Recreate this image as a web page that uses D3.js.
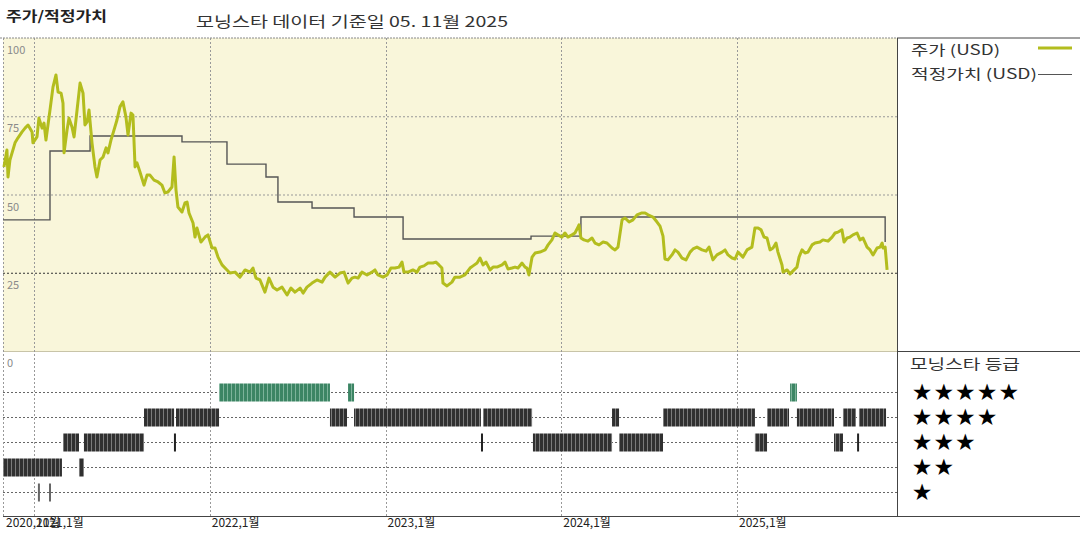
<!DOCTYPE html>
<html><head><meta charset="utf-8">
<script src="https://cdn.jsdelivr.net/npm/d3@7"></script>
<style>body{margin:0;background:#fff;} svg{display:block;}</style>
</head><body><svg id="c" width="1080" height="540"></svg>
<script>
// ---------- DATA ----------
const titleText = "주가/적정가치";
const subtitleText = "모닝스타 데이터 기준일 05. 11월 2025";
const legendLabels = ["주가 (USD)", "적정가치 (USD)"];
const ratingTitle = "모닝스타 등급";
const yTicks = [0, 25, 50, 75, 100];
const yearTicks = [2021, 2022, 2023, 2024, 2025];
const yearLabels = ["2021,1월", "2022,1월", "2023,1월", "2024,1월", "2025,1월"];
const startLabel = "2020,11월";
const starRows = [5, 4, 3, 2, 1];

const priceYears = [2020.829,2020.846,2020.852,2020.863,2020.892,2020.909,2020.932,2020.949,2020.966,2020.989,2020.994,2021.017,2021.028,2021.046,2021.057,2021.068,2021.091,2021.108,2021.125,2021.137,2021.154,2021.165,2021.171,2021.188,2021.199,2021.216,2021.228,2021.245,2021.262,2021.279,2021.290,2021.302,2021.313,2021.330,2021.347,2021.358,2021.376,2021.393,2021.410,2021.421,2021.438,2021.450,2021.472,2021.489,2021.506,2021.523,2021.535,2021.552,2021.563,2021.575,2021.586,2021.603,2021.626,2021.643,2021.660,2021.683,2021.706,2021.728,2021.745,2021.762,2021.785,2021.797,2021.808,2021.819,2021.842,2021.859,2021.871,2021.882,2021.905,2021.916,2021.927,2021.950,2021.973,2021.990,2022.013,2022.030,2022.047,2022.070,2022.098,2022.115,2022.144,2022.172,2022.201,2022.229,2022.246,2022.263,2022.286,2022.314,2022.337,2022.360,2022.383,2022.411,2022.440,2022.462,2022.485,2022.514,2022.531,2022.553,2022.582,2022.610,2022.639,2022.656,2022.684,2022.713,2022.741,2022.764,2022.787,2022.809,2022.826,2022.844,2022.866,2022.895,2022.923,2022.940,2022.957,2022.986,2023.009,2023.031,2023.054,2023.077,2023.094,2023.105,2023.128,2023.156,2023.179,2023.196,2023.219,2023.242,2023.270,2023.287,2023.304,2023.321,2023.327,2023.350,2023.378,2023.395,2023.424,2023.452,2023.481,2023.498,2023.521,2023.538,2023.555,2023.572,2023.595,2023.612,2023.634,2023.663,2023.680,2023.697,2023.720,2023.737,2023.754,2023.777,2023.794,2023.805,2023.816,2023.834,2023.851,2023.879,2023.908,2023.925,2023.947,2023.964,2023.981,2024.004,2024.021,2024.038,2024.061,2024.078,2024.095,2024.101,2024.112,2024.129,2024.152,2024.175,2024.192,2024.215,2024.238,2024.260,2024.289,2024.306,2024.323,2024.346,2024.363,2024.386,2024.408,2024.431,2024.459,2024.477,2024.494,2024.522,2024.545,2024.562,2024.579,2024.590,2024.607,2024.630,2024.647,2024.664,2024.687,2024.710,2024.733,2024.750,2024.772,2024.801,2024.824,2024.841,2024.863,2024.886,2024.915,2024.932,2024.949,2024.972,2024.989,2025.006,2025.034,2025.057,2025.085,2025.102,2025.120,2025.137,2025.154,2025.171,2025.188,2025.205,2025.222,2025.233,2025.256,2025.262,2025.285,2025.302,2025.319,2025.341,2025.353,2025.370,2025.387,2025.404,2025.427,2025.444,2025.472,2025.489,2025.518,2025.541,2025.558,2025.575,2025.597,2025.609,2025.626,2025.643,2025.660,2025.683,2025.700,2025.717,2025.740,2025.757,2025.774,2025.797,2025.814,2025.826,2025.831,2025.843,2025.854];
const priceValues = [58.8,64.2,55.6,61.0,66.5,68.1,70.0,71.2,72.2,70.0,66.5,68.4,74.4,71.2,72.8,67.4,77.0,84.3,88.2,82.7,82.4,79.2,63.3,70.6,74.4,71.6,68.4,77.0,85.6,82.4,72.2,73.2,77.0,66.5,58.8,55.6,61.0,62.0,64.9,63.3,67.4,69.6,73.8,78.0,79.6,74.8,69.0,76.0,75.4,58.8,60.1,57.2,53.0,56.2,56.2,54.6,54.0,53.0,50.5,50.8,52.4,62.0,51.4,46.0,44.4,47.3,47.6,44.1,40.9,36.4,39.3,34.8,36.4,37.1,32.9,32.9,30.0,27.5,25.9,24.9,25.2,23.6,25.9,25.2,26.5,23.3,22.7,18.8,23.3,20.4,19.5,20.4,17.9,20.1,18.8,20.1,18.5,20.4,21.7,22.7,22.0,23.6,25.2,23.6,24.9,25.2,21.7,23.3,23.6,23.3,25.2,24.3,25.2,25.9,24.3,23.6,24.3,26.5,26.5,26.8,28.4,25.2,25.2,25.9,25.2,26.8,27.2,28.1,28.1,28.4,27.5,26.5,21.7,20.8,22.0,23.6,23.6,24.3,26.5,27.2,28.1,29.7,27.5,28.4,25.9,26.8,26.8,27.5,28.4,26.2,26.5,26.8,26.5,28.1,26.8,26.5,24.3,30.0,31.3,31.6,32.3,33.9,35.5,37.7,37.1,36.4,37.7,36.4,37.1,37.7,39.6,40.3,36.1,35.5,35.1,36.1,34.5,33.9,34.8,34.5,32.9,32.3,33.2,41.9,42.5,41.2,41.9,43.5,44.1,44.1,43.5,42.8,41.2,39.9,36.7,29.4,29.1,30.7,32.3,31.6,29.7,29.1,31.6,32.6,33.2,32.3,31.9,33.2,29.1,30.7,31.6,32.3,30.7,29.7,29.4,31.6,30.0,32.3,33.2,39.3,39.3,38.7,36.4,36.1,32.3,32.9,34.5,31.6,27.5,25.2,25.9,24.6,25.6,26.8,30.0,32.3,31.3,31.6,33.9,34.5,34.8,35.5,35.1,36.4,37.7,38.0,38.7,34.8,36.1,36.4,37.1,37.7,35.5,36.1,33.2,32.3,30.7,32.9,33.2,34.5,32.9,33.2,25.9];

const fairYears = [2020.824,2021.091,2021.319,2021.842,2022.098,2022.320,2022.388,2022.582,2022.821,2023.100,2023.828,2024.112,2025.843,2025.843];
const fairValues = [41.9,63.9,68.7,66.8,59.7,55.6,47.6,45.7,42.8,35.8,36.7,42.8,42.8,34.8];

const ratingStart = [2020.824,2021.256,2021.028,2021.091,2021.165,2021.284,2021.802,2021.626,2021.808,2022.053,2022.684,2022.787,2022.821,2023.549,2023.555,2023.839,2024.289,2024.329,2024.579,2025.102,2025.171,2025.302,2025.341,2025.552,2025.603,2025.689,2025.694];
const ratingEnd   = [2021.159,2021.284,2021.028,2021.091,2021.256,2021.626,2021.802,2021.797,2022.053,2022.684,2022.781,2022.821,2023.543,2023.549,2023.834,2024.289,2024.329,2024.579,2025.102,2025.171,2025.296,2025.341,2025.552,2025.603,2025.677,2025.689,2025.848];
const ratingStars = [2,2,1,1,3,3,3,4,4,5,4,5,4,3,4,3,4,3,4,3,4,5,4,3,4,3,4];

// ---------- LAYOUT ----------
const svg = d3.select("#c");
const L = 3, R = 897, T = 38, MID = 351, B = 516;
const x = d3.scaleLinear().domain([2020.8236, 2025.9104]).range([L, R]);
const y = d3.scaleLinear().domain([0, 100]).range([MID, T]);
const yr = d3.scaleLinear().domain([0, 5]).range([517, 392]);
const font = "'Noto Sans CJK KR', 'DejaVu Sans', sans-serif";

const defs = svg.append("defs");
function stripe(id, base, line) {
  const p = defs.append("pattern").attr("id", id).attr("patternUnits", "userSpaceOnUse")
    .attr("width", 4).attr("height", 4);
  p.append("rect").attr("width", 4).attr("height", 4).attr("fill", base);
  p.append("rect").attr("x", 3).attr("width", 1).attr("height", 4).attr("fill", line);
}
stripe("stDark", "#303030", "#7a7a7a");
stripe("stGreen", "#3c8564", "#7db39a");

// backgrounds
svg.append("rect").attr("x", L).attr("y", T).attr("width", R - L).attr("height", MID - T).attr("fill", "#f9f6da");

// header
svg.append("text").attr("x", 6).attr("y", 21).attr("font-family", font).attr("font-weight", "bold")
  .attr("font-size", 13.5).attr("fill", "#222").attr("textLength", 101).attr("lengthAdjust", "spacingAndGlyphs").text(titleText);
svg.append("text").attr("x", 196).attr("y", 27).attr("font-family", font)
  .attr("font-size", 15).attr("fill", "#333").attr("textLength", 312).attr("lengthAdjust", "spacingAndGlyphs").text(subtitleText);

// top line
svg.append("line").attr("x1", 0).attr("x2", R).attr("y1", T).attr("y2", T).attr("stroke", "#888").attr("stroke-dasharray", "2,1");
svg.append("line").attr("x1", R).attr("x2", 1080).attr("y1", T).attr("y2", T).attr("stroke", "#444");

// horizontal price gridlines
svg.append("g").selectAll("line").data([25, 50, 75]).join("line")
  .attr("x1", L).attr("x2", R).attr("y1", d => y(d) + 0.5).attr("y2", d => y(d) + 0.5)
  .attr("stroke", d => d === 25 ? "#333" : "#999").attr("stroke-dasharray", "2,2");
svg.append("line").attr("x1", L).attr("x2", R).attr("y1", MID + 0.5).attr("y2", MID + 0.5).attr("stroke", "#c8c4a8");

// rating gridlines
svg.append("g").selectAll("line").data(starRows).join("line")
  .attr("x1", L).attr("x2", R).attr("y1", d => yr(d) + 0.5).attr("y2", d => yr(d) + 0.5)
  .attr("stroke", "#666").attr("stroke-dasharray", "2,2");

// vertical year gridlines
svg.append("g").selectAll("line").data(yearTicks).join("line")
  .attr("x1", d => Math.round(x(d)) + 0.5).attr("x2", d => Math.round(x(d)) + 0.5).attr("y1", T).attr("y2", B)
  .attr("stroke", "#999").attr("stroke-dasharray", "2,2");
svg.append("line").attr("x1", L + 0.5).attr("x2", L + 0.5).attr("y1", T).attr("y2", B).attr("stroke", "#999").attr("stroke-dasharray", "2,2");

// y labels
svg.append("g").selectAll("text").data(yTicks).join("text")
  .attr("x", 7).attr("y", d => y(d) + 16).attr("font-family", font).attr("font-size", 11).attr("fill", "#8a8a8a")
  .text(d => d);

// fair value line
const fairPts = fairYears.map((t, i) => [t, fairValues[i]]);
svg.append("path").datum(fairPts)
  .attr("d", d3.line().x(d => x(d[0])).y(d => y(d[1])).curve(d3.curveStepAfter))
  .attr("fill", "none").attr("stroke", "#555").attr("stroke-width", 1.4);

// price line
const pricePts = priceYears.map((t, i) => [t, priceValues[i]]);
svg.append("path").datum(pricePts)
  .attr("d", d3.line().x(d => x(d[0])).y(d => y(d[1])))
  .attr("fill", "none").attr("stroke", "#b3bd1e").attr("stroke-width", 3).attr("stroke-linejoin", "round");

// rating bars
const ratings = ratingStart.map((s, i) => ({ s, e: ratingEnd[i], r: ratingStars[i] }));
svg.append("g").selectAll("rect").data(ratings).join("rect")
  .attr("x", d => d.e > d.s ? x(d.s) : x(d.s) - 1)
  .attr("width", d => d.e > d.s ? Math.max(2, x(d.e) - x(d.s)) : 2)
  .attr("y", d => yr(d.r) - 8.5).attr("height", 18)
  .attr("fill", d => d.e > d.s ? (d.r === 5 ? "url(#stGreen)" : "url(#stDark)") : (d.r === 1 ? "#666" : "#222"));

// bottom & right borders
svg.append("line").attr("x1", L).attr("x2", 1080).attr("y1", B + 0.5).attr("y2", B + 0.5).attr("stroke", "#444");
svg.append("line").attr("x1", R + 0.5).attr("x2", R + 0.5).attr("y1", T).attr("y2", B).attr("stroke", "#444");
svg.append("line").attr("x1", R).attr("x2", 1080).attr("y1", MID + 0.5).attr("y2", MID + 0.5).attr("stroke", "#444");

// x labels
svg.append("text").attr("x", 6).attr("y", 527).attr("font-family", font).attr("font-size", 12).attr("fill", "#222").text(startLabel);
svg.append("g").selectAll("text").data(yearTicks).join("text")
  .attr("x", d => x(d) + 2).attr("y", 527).attr("font-family", font).attr("font-size", 12).attr("fill", "#222")
  .text((d, i) => yearLabels[i]);

// legend
svg.append("text").attr("x", 911).attr("y", 55).attr("font-family", font).attr("font-size", 14).attr("fill", "#333")
  .attr("textLength", 89).attr("lengthAdjust", "spacingAndGlyphs").text(legendLabels[0]);
svg.append("line").attr("x1", 1038).attr("x2", 1072).attr("y1", 48).attr("y2", 48).attr("stroke", "#b3bd1e").attr("stroke-width", 3);
svg.append("text").attr("x", 911).attr("y", 79).attr("font-family", font).attr("font-size", 14).attr("fill", "#333")
  .attr("textLength", 126).attr("lengthAdjust", "spacingAndGlyphs").text(legendLabels[1]);
svg.append("line").attr("x1", 1038).attr("x2", 1072).attr("y1", 74.5).attr("y2", 74.5).attr("stroke", "#555").attr("stroke-width", 1.2);

// rating legend
svg.append("text").attr("x", 910).attr("y", 369).attr("font-family", font).attr("font-size", 14).attr("fill", "#333")
  .attr("textLength", 110).attr("lengthAdjust", "spacingAndGlyphs").text(ratingTitle);
const starCells = [];
starRows.forEach(r => { for (let i = 0; i < r; i++) starCells.push({ r, i }); });
svg.append("g").selectAll("text").data(starCells).join("text")
  .attr("x", d => 922 + d.i * 21.7).attr("y", d => yr(d.r) + 8).attr("text-anchor", "middle")
  .attr("font-family", "'DejaVu Sans', sans-serif").attr("font-size", 23).attr("fill", "#000").text("★");
</script></body></html>
